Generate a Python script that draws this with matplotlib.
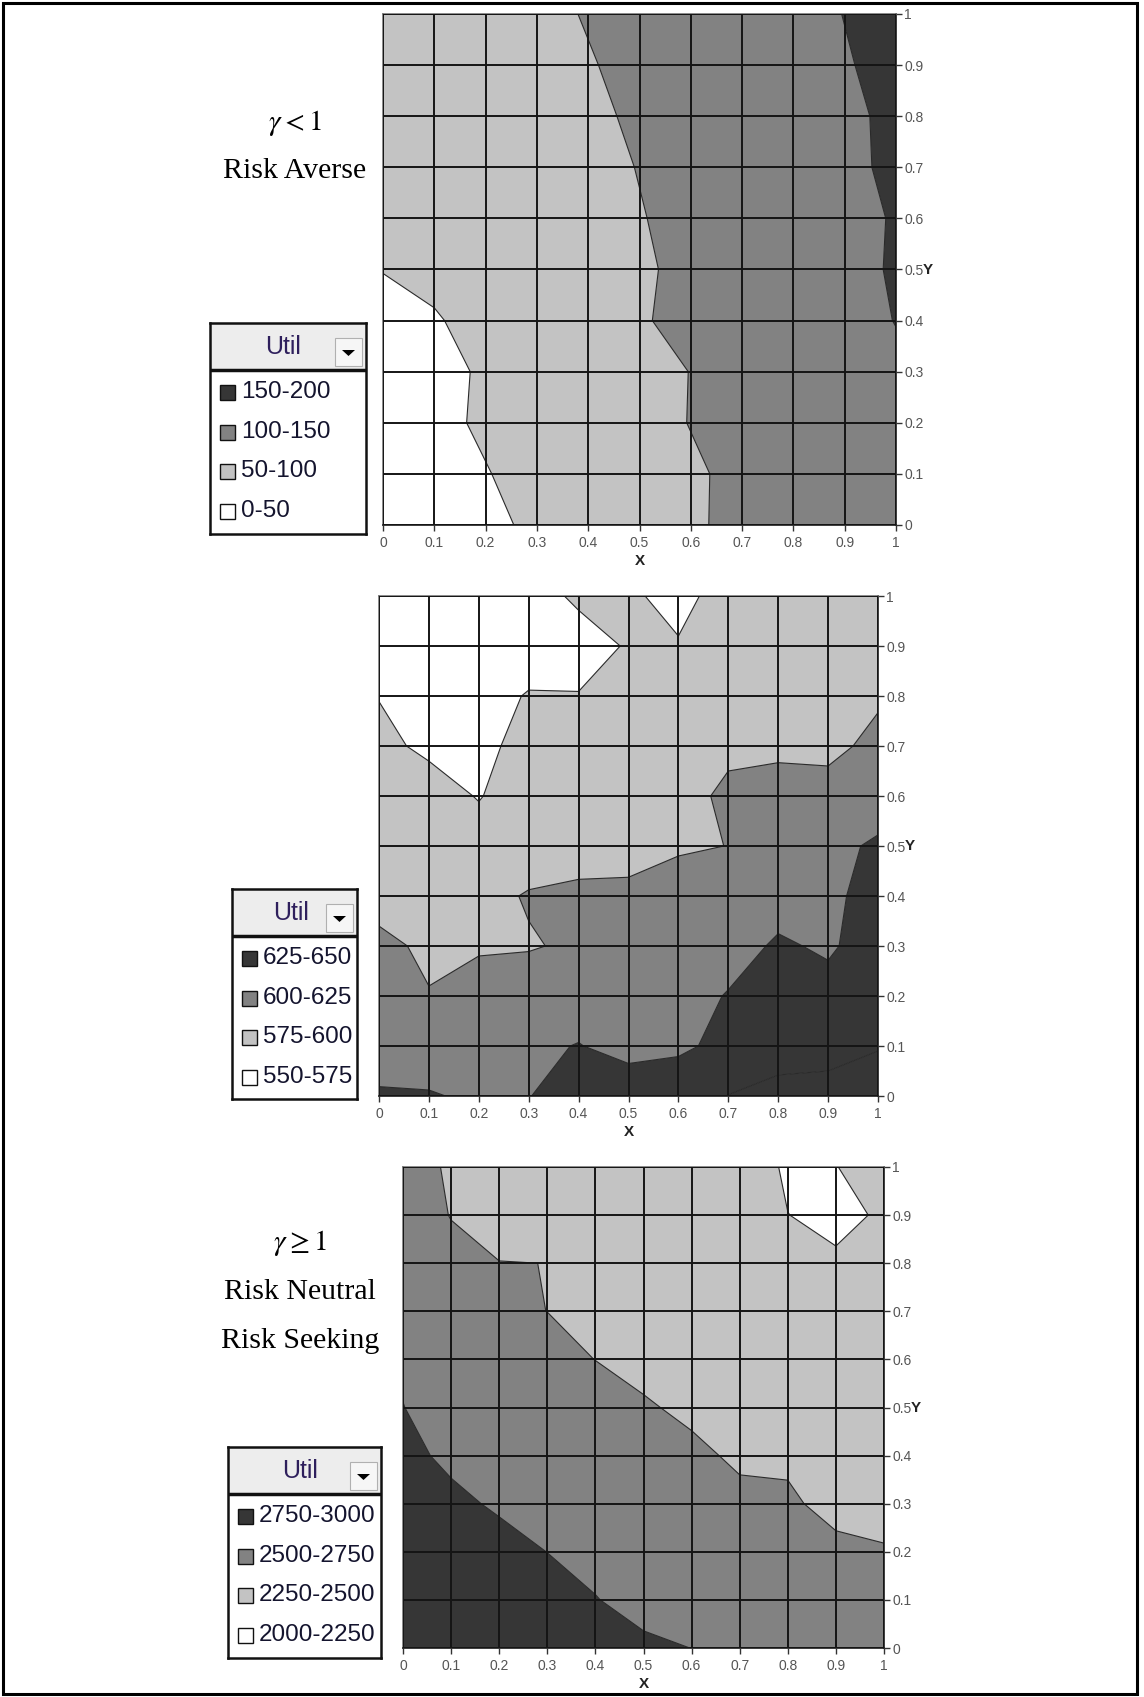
import numpy as np
import matplotlib
matplotlib.use('Agg')
import matplotlib.pyplot as plt
from matplotlib.patches import Rectangle, Polygon

plt.rcParams['font.family'] = ['Liberation Sans', 'DejaVu Sans']
plt.rcParams['mathtext.fontset'] = 'stix'

W, H = 1144, 1697

# grid of the Excel surface (x across, y up)
grid_x = [0.0, 0.1, 0.2, 0.3, 0.4, 0.5, 0.6, 0.7, 0.8, 0.9, 1.0]
grid_y = [0.0, 0.1, 0.2, 0.3, 0.4, 0.5, 0.6, 0.7, 0.8, 0.9, 1.0]
tick_labels = ['0', '0.1', '0.2', '0.3', '0.4', '0.5', '0.6', '0.7', '0.8', '0.9', '1']

# gamma < 1, risk averse (rows: y = 0 ... 1)
util_averse = [
    [20, 30, 39, 59, 70, 82, 93, 113, 120, 127, 133],
    [25, 36, 47.6, 67.6, 78, 86, 92.6, 112.6, 120, 128, 135],
    [28, 37.4, 57.4, 66, 74, 81.6, 101.6, 112, 120, 128, 137],
    [30, 36, 56, 64, 73, 81, 101, 113, 122, 130, 140],
    [38, 46, 66, 76, 86, 95, 115, 122, 127, 131.4, 151.4],
    [51, 62, 72, 80, 86, 92.6, 112.6, 120, 128, 135, 155],
    [58, 64, 72, 80, 88, 97, 117, 124, 129, 134, 154],
    [60, 65, 70, 76, 82, 102, 112, 120, 130, 139.4, 159.4],
    [62, 67, 72, 80, 88.8, 108.8, 115, 122, 131, 140.2, 160.2],
    [64, 70, 76, 84, 96, 116, 122, 128, 136, 146, 166],
    [66, 72, 78, 84, 104, 112, 118, 124, 131.2, 151.2, 170],
]
levels_averse = [0, 50, 100, 150, 200]
labels_averse = ['150-200', '100-150', '50-100', '0-50']

# middle chart
util_mid = [
    [628, 626.5, 622, 624.5, 633, 641.7, 640, 650.5, 658.7, 660, 659],
    [612, 614, 616, 620, 626, 616, 621, 631, 638, 640, 649],
    [610, 601, 612, 608, 612, 614, 618, 626, 632, 631, 635],
    [605.3, 596, 597, 599, 602, 608, 612, 618, 627.3, 622.6, 633.5],
    [592, 593, 596, 601, 603, 603, 612, 615, 618, 620, 633.5],
    [590, 592, 591, 593, 594, 595, 597, 600.3, 612, 618, 628.7],
    [585, 590, 573, 595, 592, 590, 589, 606, 612, 609, 612],
    [583, 568.5, 567, 585, 586, 588, 590, 594, 594, 594, 606],
    [574, 566, 568, 576.2, 575.5, 578, 582, 585, 588, 590, 597],
    [558, 560, 562, 566, 570, 576, 576, 580, 584, 587, 590],
    [560, 562, 565, 570, 577, 577, 571, 580.5, 585, 588, 590],
]
levels_mid = [550, 575, 600, 625, 650, 675]
labels_mid = ['625-650', '600-625', '575-600', '550-575']

# gamma >= 1, risk neutral / risk seeking
util_seek = [
    [2950, 2920, 2885, 2850, 2815, 2775, 2749, 2715, 2680, 2645, 2610],
    [2905, 2870, 2835, 2800, 2755, 2705, 2680, 2650, 2620, 2590, 2560],
    [2870, 2830, 2790, 2749, 2710, 2670, 2640, 2610, 2580, 2535, 2520],
    [2830, 2775, 2735, 2700, 2660, 2620, 2590, 2545, 2523, 2455, 2409],
    [2779, 2728, 2695, 2660, 2620, 2580, 2540, 2470, 2476, 2440, 2380],
    [2752, 2700, 2665, 2625, 2585, 2520, 2463, 2430, 2400, 2370, 2340],
    [2734, 2690, 2650, 2560, 2498, 2446, 2410, 2380, 2350, 2320, 2300],
    [2700, 2620, 2532, 2499, 2460, 2420, 2390, 2360, 2330, 2300, 2280],
    [2640, 2560, 2502, 2499.5, 2440, 2400, 2370, 2340, 2310, 2275, 2290],
    [2616, 2493, 2460, 2420, 2380, 2350, 2320, 2290, 2252, 2205, 2272],
    [2606, 2470, 2440, 2420, 2405, 2390, 2378, 2365, 2223, 2248, 2288],
]
levels_seek = [2000, 2250, 2500, 2750, 3000]
labels_seek = ['2750-3000', '2500-2750', '2250-2500', '2000-2250']

band_colors = ['#ffffff', '#c3c3c3', '#828282', '#363636']


def px_box(x0, y0, x1, y1):
    return [x0 / W, 1 - y1 / H, (x1 - x0) / W, (y1 - y0) / H]


fig = plt.figure(figsize=(W / 100, H / 100), dpi=100)
fig.patch.set_facecolor('white')


def draw_panel(box, z, levels, colors):
    ax = fig.add_axes(px_box(*box))
    zz = np.array(z)
    ax.contourf(grid_x, grid_y, zz, levels=levels, colors=colors, antialiased=True)
    ax.contour(grid_x, grid_y, zz, levels=levels[1:-1], colors='#2a2a2a', linewidths=0.8)
    ax.set_xlim(0, 1)
    ax.set_ylim(0, 1)
    ax.set_xticks(grid_x)
    ax.set_yticks(grid_y)
    ax.set_xticklabels(tick_labels)
    ax.set_yticklabels(tick_labels)
    ax.yaxis.tick_right()
    ax.grid(True, color='#151515', lw=1.4)
    ax.set_axisbelow(False)
    ax.tick_params(axis='x', direction='out', length=4, width=1, color='#333333',
                   pad=4, labelsize=10, labelcolor='#555555')
    ax.tick_params(axis='y', direction='out', length=4, width=1, color='#333333',
                   pad=2, labelsize=10, labelcolor='#555555')
    for name, sp in ax.spines.items():
        sp.set_color('#1a1a1a' if name in ('bottom', 'right') else '#777777')
        sp.set_linewidth(1.2)
    ax.annotate('Y', xy=(1, 0.5), xycoords='axes fraction', xytext=(19.5, 0),
                textcoords='offset points', ha='left', va='center',
                fontsize=11, fontweight='bold', color='#222222')
    ax.annotate('X', xy=(0.5, 0), xycoords='axes fraction', xytext=(0, -26),
                textcoords='offset points', ha='center', va='center',
                fontsize=11, fontweight='bold', color='#222222')
    return ax


def draw_legend(box, labels, colors):
    x0, y0, x1, y1 = box
    w, h = x1 - x0, y1 - y0
    lg = fig.add_axes(px_box(*box))
    lg.set_xlim(0, w)
    lg.set_ylim(h, 0)
    lg.set_xticks([])
    lg.set_yticks([])
    for sp in lg.spines.values():
        sp.set_linewidth(1.8)
        sp.set_color('#111111')
    head = 47
    lg.add_patch(Rectangle((0, 0), w, head, facecolor='#ededed', edgecolor='none'))
    lg.plot([0, w], [head, head], color='#111111', lw=2.5)
    lg.text(w * 0.47, head / 2 + 1, 'Util', ha='center', va='center',
            fontsize=18, color='#2e1f5c')
    lg.add_patch(Rectangle((w - 31, 15), 27, 28, facecolor='#f6f6f6',
                           edgecolor='#b0b0b0', lw=0.8))
    lg.add_patch(Polygon([[w - 24, 27], [w - 11, 27], [w - 17.5, 33]],
                         closed=True, facecolor='black', edgecolor='none'))
    rows = [69, 109, 148, 188]
    for yc, lab, col in zip(rows, labels, colors):
        lg.add_patch(Rectangle((10, yc - 7.5), 15, 15, facecolor=col,
                               edgecolor='#111111', lw=1))
        lg.text(31, yc, lab, ha='left', va='center', fontsize=17.5,
                color='#14142e', clip_on=True)


draw_panel((383, 14, 896, 525), util_averse, levels_averse, band_colors)
draw_panel((379, 596, 878, 1096), util_mid, levels_mid, band_colors + ['#363636'])
draw_panel((403, 1167, 884, 1648), util_seek, levels_seek, band_colors)

draw_legend((210, 323, 366, 534), labels_averse, band_colors[::-1])
draw_legend((232, 889, 357, 1099), labels_mid, band_colors[::-1])
draw_legend((228, 1447, 381, 1658), labels_seek, band_colors[::-1])

serif = ['Liberation Serif', 'DejaVu Serif']
fig.text(295 / W, 1 - 123 / H, r'$\gamma < 1$', ha='center', va='center', fontsize=21)
fig.text(295 / W, 1 - 171 / H, 'Risk Averse', ha='center', va='center',
         fontsize=21.5, family=serif)
fig.text(300 / W, 1 - 1243 / H, r'$\gamma \geq 1$', ha='center', va='center', fontsize=21)
fig.text(300 / W, 1 - 1292 / H, 'Risk Neutral', ha='center', va='center',
         fontsize=21.5, family=serif)
fig.text(300 / W, 1 - 1341 / H, 'Risk Seeking', ha='center', va='center',
         fontsize=21.5, family=serif)

fig.add_artist(Rectangle((3 / W, 3 / H), 1134 / W, 1691 / H, transform=fig.transFigure,
                         fill=False, lw=2.2, ec='black'))

fig.savefig('out.png', dpi=100)
